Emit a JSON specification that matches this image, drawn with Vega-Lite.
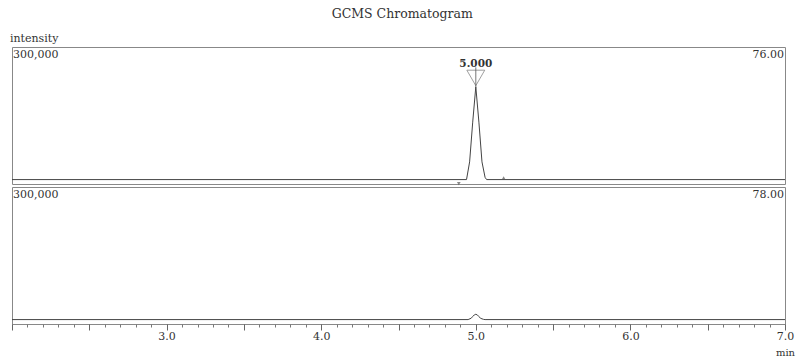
{
  "$schema": "https://vega.github.io/schema/vega-lite/v6.json",
  "padding": {"left": 9, "top": 8, "right": 2, "bottom": 2},
  "title": {"text": "GCMS Chromatogram", "font": "DejaVu Serif", "fontSize": 12.5, "fontWeight": "normal", "color": "#333", "anchor": "middle", "offset": 12},
  "config": {"view": {"stroke": "#888", "strokeWidth": 1}, "font": "DejaVu Serif", "concat": {"spacing": 0}},
  "datasets": {
    "m76": [
      {"t": 2.0, "v": 0}, {"t": 4.94, "v": 0}, {"t": 4.96, "v": 40000}, {"t": 4.98, "v": 130000},
      {"t": 5.0, "v": 210000}, {"t": 5.02, "v": 130000}, {"t": 5.04, "v": 40000}, {"t": 5.06, "v": 5000},
      {"t": 5.07, "v": 0}, {"t": 7.0, "v": 0}
    ],
    "m78": [
      {"t": 2.0, "v": 0}, {"t": 4.95, "v": 0}, {"t": 4.97, "v": 3000}, {"t": 4.98, "v": 7000},
      {"t": 4.99, "v": 10500}, {"t": 5.0, "v": 12000}, {"t": 5.01, "v": 10500}, {"t": 5.02, "v": 7000},
      {"t": 5.03, "v": 3000}, {"t": 5.05, "v": 500}, {"t": 5.06, "v": 0}, {"t": 7.0, "v": 0}
    ],
    "scaleLabel": [{"t": 2.0, "v": 300000, "text": "300,000"}],
    "mz76": [{"t": 7.0, "v": 300000, "text": "76.00"}],
    "mz78": [{"t": 7.0, "v": 300000, "text": "78.00"}],
    "peak": [{"t": 5.0, "v": 230000, "top": 254000, "bottom": 210000, "label": "5.000", "lv": 262000}],
    "bounds": [
      {"t": 4.89, "v": -9000, "shape": "triangle-down"},
      {"t": 5.18, "v": 4000, "shape": "triangle-up"}
    ]
  },
  "vconcat": [
    {
      "width": 773, "height": 137,
      "title": {"text": "intensity", "anchor": "start", "fontSize": 11, "fontWeight": "normal", "offset": 3, "color": "#333", "font": "DejaVu Serif"},
      "layer": [
        {
          "data": {"name": "m76"},
          "mark": {"type": "line", "color": "#444", "strokeWidth": 1},
          "encoding": {
            "x": {"field": "t", "type": "quantitative", "scale": {"domain": [2, 7], "nice": false, "zero": false}, "axis": null},
            "y": {"field": "v", "type": "quantitative", "scale": {"domain": [-10000, 300000], "nice": false, "zero": false}, "axis": null}
          }
        },
        {
          "data": {"name": "peak"},
          "mark": {"type": "rule", "color": "#555", "strokeWidth": 0.8},
          "encoding": {
            "x": {"field": "t", "type": "quantitative", "axis": null},
            "y": {"field": "top", "type": "quantitative", "axis": null},
            "y2": {"field": "bottom"}
          }
        },
        {
          "data": {"name": "peak"},
          "mark": {"type": "point", "shape": "triangle-down", "filled": false, "size": 320, "color": "#555", "strokeWidth": 0.8},
          "encoding": {
            "x": {"field": "t", "type": "quantitative", "axis": null},
            "y": {"field": "v", "type": "quantitative", "axis": null}
          }
        },
        {
          "data": {"name": "peak"},
          "mark": {"type": "text", "fontSize": 10.5, "fontWeight": "bold", "color": "#333", "baseline": "middle"},
          "encoding": {
            "x": {"field": "t", "type": "quantitative", "axis": null},
            "y": {"field": "lv", "type": "quantitative", "axis": null},
            "text": {"field": "label"}
          }
        },
        {
          "data": {"name": "bounds"},
          "mark": {"type": "point", "filled": true, "size": 14, "color": "#555"},
          "encoding": {
            "x": {"field": "t", "type": "quantitative", "axis": null},
            "y": {"field": "v", "type": "quantitative", "axis": null},
            "shape": {"field": "shape", "type": "nominal", "scale": null, "legend": null}
          }
        },
        {
          "data": {"name": "scaleLabel"},
          "mark": {"type": "text", "fontSize": 11, "color": "#333", "baseline": "top", "align": "left", "dy": 2, "dx": 1},
          "encoding": {
            "x": {"field": "t", "type": "quantitative", "axis": null},
            "y": {"field": "v", "type": "quantitative", "axis": null},
            "text": {"field": "text"}
          }
        },
        {
          "data": {"name": "mz76"},
          "mark": {"type": "text", "fontSize": 11, "color": "#333", "baseline": "top", "align": "right", "dy": 2, "dx": -1},
          "encoding": {
            "x": {"field": "t", "type": "quantitative", "axis": null},
            "y": {"field": "v", "type": "quantitative", "axis": null},
            "text": {"field": "text"}
          }
        }
      ]
    },
    {
      "width": 773, "height": 137,
      "resolve": {"axis": {"x": "independent"}},
      "layer": [
        {
          "data": {"name": "m78"},
          "mark": {"type": "line", "color": "#444", "strokeWidth": 1},
          "encoding": {
            "x": {"field": "t", "type": "quantitative", "scale": {"domain": [2, 7], "nice": false, "zero": false},
              "axis": {"orient": "bottom", "values": [2.0,2.1,2.2,2.3,2.4,2.5,2.6,2.7,2.8,2.9,3.0,3.1,3.2,3.3,3.4,3.5,3.6,3.7,3.8,3.9,4.0,4.1,4.2,4.3,4.4,4.5,4.6,4.7,4.8,4.9,5.0,5.1,5.2,5.3,5.4,5.5,5.6,5.7,5.8,5.9,6.0,6.1,6.2,6.3,6.4,6.5,6.6,6.7,6.8,6.9,7.0],
                "tickSize": 3, "tickColor": "#777", "labels": false, "domain": false, "grid": false, "title": null}},
            "y": {"field": "v", "type": "quantitative", "scale": {"domain": [-10000, 300000], "nice": false, "zero": false}, "axis": null}
          }
        },
        {
          "data": {"name": "scaleLabel"},
          "mark": {"type": "text", "fontSize": 11, "color": "#333", "baseline": "top", "align": "left", "dy": 2, "dx": 1},
          "encoding": {
            "x": {"field": "t", "type": "quantitative", "axis": null},
            "y": {"field": "v", "type": "quantitative", "axis": null},
            "text": {"field": "text"}
          }
        },
        {
          "data": {"name": "mz78"},
          "mark": {"type": "text", "fontSize": 11, "color": "#333", "baseline": "top", "align": "right", "dy": 2, "dx": -1},
          "encoding": {
            "x": {"field": "t", "type": "quantitative",
              "axis": {"orient": "bottom", "values": [2.0,2.5,3.0,3.5,4.0,4.5,5.0,5.5,6.0,6.5,7.0], "tickSize": 6, "tickColor": "#666", "domain": false, "grid": false,
                "labelExpr": "datum.value % 1 === 0 && datum.value > 2 ? format(datum.value, '.1f') : ''",
                "labelFlush": false, "labelOverlap": false, "labelFontSize": 11, "labelColor": "#333", "labelFont": "DejaVu Serif", "labelPadding": 0,
                "title": "min", "titleAnchor": "end", "titleAlign": "center", "titleFontWeight": "normal", "titleFontSize": 10, "titleColor": "#333", "titleFont": "DejaVu Serif", "titlePadding": 6}},
            "y": {"field": "v", "type": "quantitative", "axis": null},
            "text": {"field": "text"}
          }
        }
      ]
    }
  ]
}
